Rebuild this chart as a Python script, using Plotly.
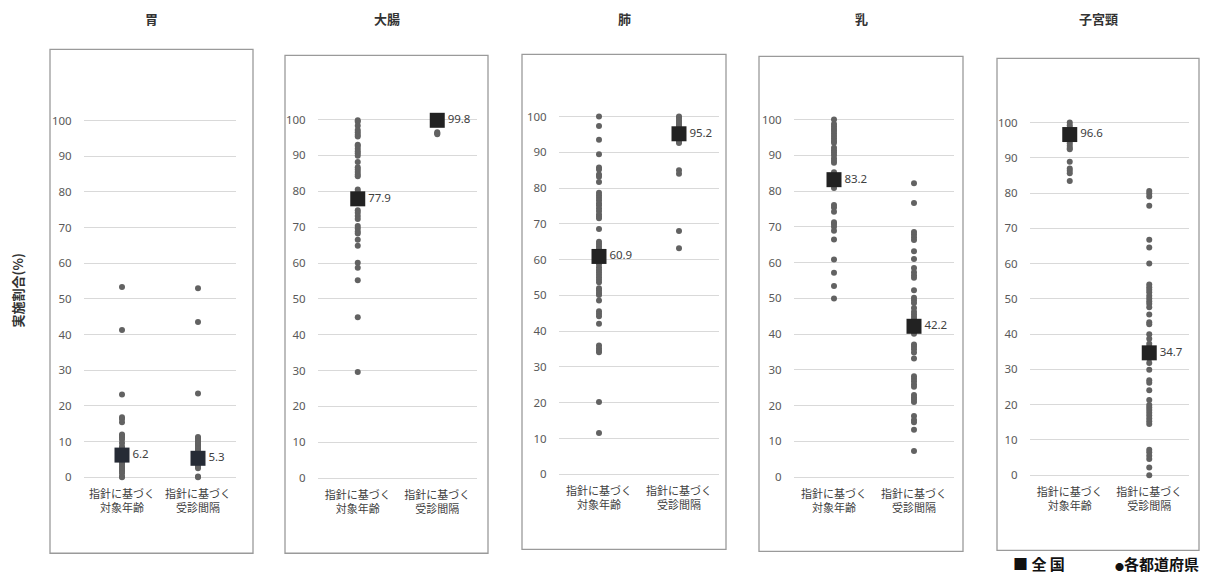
import plotly.graph_objects as go

W, H = 1205, 578

panel_titles = ["胃", "大腸", "肺", "乳", "子宮頸"]
categories = ["指針に基づく<br>対象年齢", "指針に基づく<br>受診間隔"]

# national values [対象年齢, 受診間隔]
national = {
    "胃": [6.2, 5.3],
    "大腸": [77.9, 99.8],
    "肺": [60.9, 95.2],
    "乳": [83.2, 42.2],
    "子宮頸": [96.6, 34.7],
}

# prefecture values
stomach_age = [53.3, 41.3, 23.2, 16.8, 16.3, 15.4, 12.0, 11.6, 11.1, 10.6, 9.6, 8.6, 8.1,
               7.6, 7.1, 6.6, 6.1, 5.6, 5.1, 4.6, 4.1, 3.6, 3.1, 2.6, 2.1, 1.6, 1.1, 0.2, 0.0]
stomach_int = [53.0, 43.5, 23.5, 11.3, 10.9, 10.5, 10.1, 9.7, 9.3, 8.9, 8.5, 8.1, 7.7, 7.3,
               6.9, 6.5, 6.1, 5.7, 5.3, 4.9, 4.5, 4.1, 3.7, 3.3, 2.9, 2.5, 0.2, 0.0]
colon_age = [99.8, 99.4, 98.3, 97.1, 96.5, 95.8, 95.3, 93.0, 92.6, 91.9, 91.2, 90.6, 89.9,
             88.2, 86.7, 86.1, 85.4, 84.7, 84.2, 80.5, 79.9, 74.7, 74.0, 73.1, 72.3, 70.3,
             69.6, 68.8, 68.2, 66.5, 64.8, 60.1, 58.7, 55.2, 44.9, 29.6]
colon_int = [100.0, 99.9, 99.7, 99.5, 96.5, 96.2, 95.9]
lung_age = [100.0, 97.4, 93.5, 89.5, 85.8, 85.2, 83.8, 83.2, 81.7, 78.7, 78.0, 77.3, 76.6,
            75.8, 75.2, 74.4, 73.6, 72.7, 72.1, 71.6, 68.6, 65.0, 64.4, 63.7, 63.0, 60.6,
            58.8, 57.9, 57.1, 56.5, 55.8, 55.1, 54.4, 53.7, 52.0, 51.4, 50.7, 50.1, 48.6,
            45.6, 44.9, 44.2, 42.1, 36.0, 35.2, 34.5, 34.1, 20.2, 11.5]
lung_int = [100.0, 99.6, 99.0, 98.5, 98.0, 97.5, 97.0, 96.5, 96.0, 95.5, 95.0, 94.5, 94.0,
            93.5, 93.0, 92.6, 85.0, 84.0, 68.0, 63.2]
breast_age = [100.0, 98.8, 98.1, 97.4, 96.8, 96.1, 95.4, 94.7, 94.0, 93.5, 92.1, 91.4, 90.8,
              90.1, 89.2, 88.5, 87.9, 85.3, 80.9, 76.1, 75.4, 74.2, 71.3, 70.8, 70.0, 68.9,
              66.5, 60.9, 57.2, 53.5, 50.0]
breast_int = [82.2, 76.7, 68.6, 67.9, 67.1, 66.3, 63.2, 61.0, 58.5, 57.3, 56.5, 55.8, 52.3,
              50.2, 49.5, 48.7, 47.3, 46.3, 45.6, 44.9, 44.2, 43.5, 42.8, 41.5, 40.8, 40.1,
              37.1, 36.5, 35.8, 34.9, 33.2, 28.2, 27.5, 26.8, 26.0, 25.3, 23.0, 22.3, 21.7,
              21.0, 17.1, 16.0, 15.4, 13.3, 7.3]
cervix_age = [100.0, 99.2, 98.5, 97.6, 96.8, 96.2, 95.5, 94.8, 94.1, 93.4, 92.8, 92.4, 88.9,
              87.0, 86.3, 85.6, 83.4]
cervix_int = [80.6, 79.9, 79.0, 76.4, 66.8, 64.6, 60.0, 54.1, 53.3, 52.6, 51.9, 50.9, 50.1,
              49.3, 48.6, 47.6, 45.6, 43.4, 42.8, 40.0, 38.7, 37.3, 36.5, 35.6, 34.2, 33.1,
              31.8, 29.9, 26.9, 26.2, 24.1, 21.3, 19.9, 19.2, 18.5, 17.7, 16.9, 16.1, 15.3,
              14.5, 7.2, 6.5, 5.5, 4.6, 2.2, 0.0]

prefs = {
    "胃": [stomach_age, stomach_int],
    "大腸": [colon_age, colon_int],
    "肺": [lung_age, lung_int],
    "乳": [breast_age, breast_int],
    "子宮頸": [cervix_age, cervix_int],
}

# layout geometry in pixels: plot x0, x1, y(0), y(100), box l, r, t, b
geom = {
    "胃":   dict(x0=84, x1=236, y0=479, y100=118, bl=50, br=253, bt=46, bb=556),
    "大腸": dict(x0=318, x1=477, y0=480, y100=117, bl=285, br=488, bt=52, bb=556),
    "肺":   dict(x0=559, x1=719, y0=476, y100=114, bl=522, br=726, bt=51, bb=552),
    "乳":   dict(x0=794, x1=954, y0=479, y100=117, bl=759, br=963, bt=53, bb=554),
    "子宮頸": dict(x0=1030, x1=1189, y0=477, y100=120, bl=997, br=1199, bt=55, bb=553),
}

FONT = "Noto Sans, Noto Sans CJK JP, sans-serif"
JFONT = "Noto Sans CJK JP, sans-serif"
DOT = "#626262"
SQ = "#222222"

fig = go.Figure()
shapes = []
annotations = []
YMIN, YMAX = -1.0, 101.0

for i, name in enumerate(panel_titles):
    g = geom[name]
    k = "" if i == 0 else str(i + 1)
    px_per = (g["y0"] - g["y100"]) / 100.0
    ybot = g["y0"] - (YMIN - 0) * px_per
    ytop = g["y100"] - (YMAX - 100) * px_per
    fig.update_layout(**{
        f"xaxis{k}": dict(domain=[g["x0"] / W, g["x1"] / W], type="category",
                          range=[-0.5, 1.5], showgrid=False, zeroline=False,
                          showline=False, tickfont=dict(family=JFONT, size=11, color="#404040"),
                          ticks="outside", ticklen=3, tickcolor="rgba(0,0,0,0)",
                          anchor=f"y{k}", fixedrange=True),
        f"yaxis{k}": dict(domain=[1 - ybot / H, 1 - ytop / H], range=[YMIN, YMAX],
                          tickvals=list(range(0, 101, 10)), showgrid=True,
                          gridcolor="#d9d9d9", gridwidth=1, zeroline=False, showline=False,
                          tickfont=dict(family=FONT, size=11.5, color="#595959"),
                          ticks="outside", ticklen=9, tickcolor="rgba(0,0,0,0)",
                          anchor=f"x{k}", fixedrange=True),
    })
    xa = "x" + k
    ya = "y" + k
    for j, cat in enumerate(categories):
        vals = prefs[name][j]
        fig.add_trace(go.Scatter(x=[cat] * len(vals), y=vals, mode="markers",
                                 marker=dict(color=DOT, size=6, symbol="circle"),
                                 xaxis=xa, yaxis=ya, cliponaxis=False, showlegend=False,
                                 hoverinfo="y"))
    nat = national[name]
    sqcol = "#262b35" if name == "胃" else SQ
    fig.add_trace(go.Scatter(x=categories, y=nat, mode="markers+text",
                             marker=dict(color=sqcol, size=15, symbol="square"),
                             text=[f"{v:.1f}" for v in nat], textposition="middle right",
                             textfont=dict(family=FONT, size=11.5, color="#404040"),
                             xaxis=xa, yaxis=ya, cliponaxis=False, showlegend=False,
                             hoverinfo="y"))
    shapes.append(dict(type="rect", xref="paper", yref="paper",
                       x0=g["bl"] / W, x1=g["br"] / W, y0=1 - g["bb"] / H, y1=1 - g["bt"] / H,
                       line=dict(color="#9a9a9a", width=1.3), fillcolor="rgba(0,0,0,0)",
                       layer="below"))
    annotations.append(dict(text=f"<b>{name}</b>", xref="paper", yref="paper",
                            x=(g["bl"] + g["br"]) / 2 / W, y=1 - 15 / H,
                            showarrow=False, xanchor="center", yanchor="middle",
                            font=dict(family=JFONT, size=13, color="#333333")))

annotations.append(dict(text="<b>実施割合(%)</b>", xref="paper", yref="paper",
                        x=17 / W, y=1 - 290 / H, textangle=-90, showarrow=False,
                        xanchor="center", yanchor="middle",
                        font=dict(family=JFONT, size=13, color="#333333")))
annotations.append(dict(text="<b>■ 全 国</b>", xref="paper", yref="paper",
                        x=1011 / W, y=1 - 566 / H, showarrow=False,
                        xanchor="left", yanchor="middle",
                        font=dict(family=JFONT, size=15, color="#111111")))
annotations.append(dict(text="<b><span style='font-size:9px'>●</span>各都道府県</b>",
                        xref="paper", yref="paper",
                        x=1201 / W, y=1 - 566 / H, showarrow=False,
                        xanchor="right", yanchor="middle",
                        font=dict(family=JFONT, size=15, color="#111111")))

fig.update_layout(width=W, height=H, margin=dict(l=0, r=0, t=0, b=0),
                  paper_bgcolor="white", plot_bgcolor="white",
                  shapes=shapes, annotations=annotations, showlegend=False)

fig.write_html("out.html", config={"displayModeBar": False},
               post_script="document.body.style.margin='0';document.body.style.overflow='hidden';")
